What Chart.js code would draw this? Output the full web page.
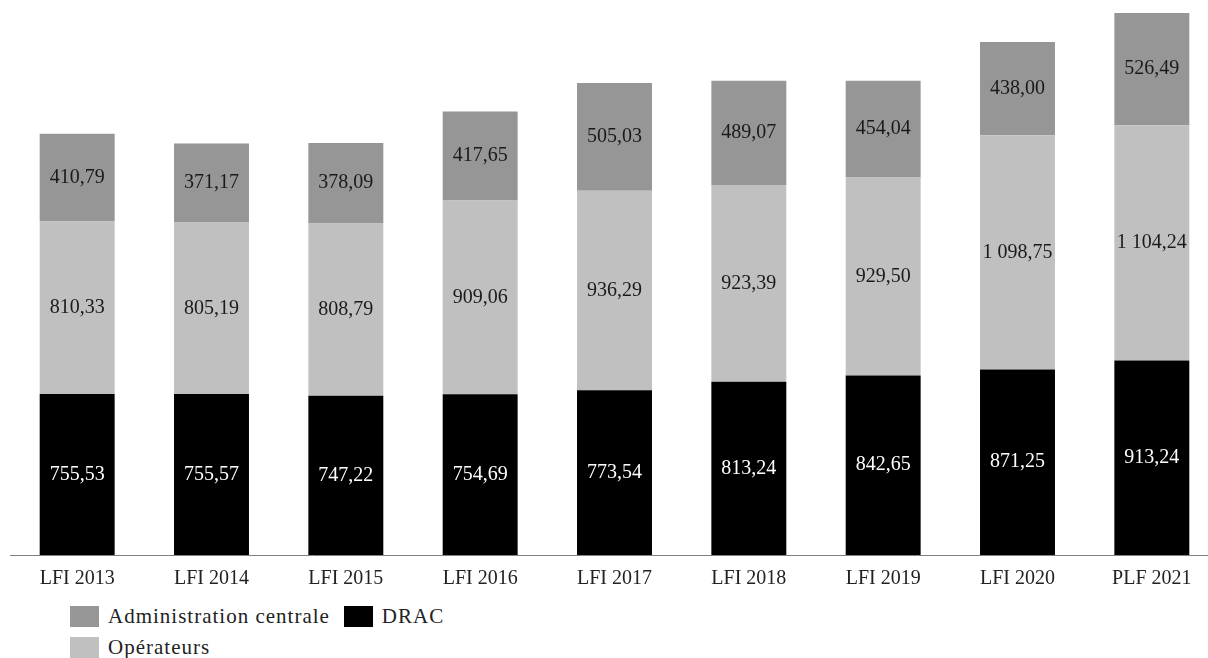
<!DOCTYPE html>
<html>
<head>
<meta charset="utf-8">
<script src="https://cdn.jsdelivr.net/npm/chart.js@4/dist/chart.umd.min.js"></script>
<style>
  html, body { margin: 0; padding: 0; background: #fff; overflow: hidden; }
  body { width: 1208px; height: 658px; position: relative; font-family: "Liberation Serif", serif; }
  #wrap { position: absolute; left: 0; top: 0; width: 1219px; height: 595px; }
  #legend { position: absolute; left: 70px; top: 602px; width: 520px; font-size: 21px; letter-spacing: 1px; color: #222; }
  .item { display: inline-flex; align-items: center; height: 29px; margin-right: 14px; }
  .box { width: 29px; height: 21px; margin-right: 9px; }
  .row { height: 31px; white-space: nowrap; }
</style>
</head>
<body>
<div id="wrap"><canvas id="myChart"></canvas></div>
<div id="legend"></div>
<script>
const categories = ["LFI 2013", "LFI 2014", "LFI 2015", "LFI 2016", "LFI 2017", "LFI 2018", "LFI 2019", "LFI 2020", "PLF 2021"];
const dracValues = [755.53, 755.57, 747.22, 754.69, 773.54, 813.24, 842.65, 871.25, 913.24];
const operateursValues = [810.33, 805.19, 808.79, 909.06, 936.29, 923.39, 929.50, 1098.75, 1104.24];
const adminValues = [410.79, 371.17, 378.09, 417.65, 505.03, 489.07, 454.04, 438.00, 526.49];

// ordre de la légende comme sur l'image
const legendRows = [["Administration centrale", "DRAC"], ["Opérateurs"]];

// format français : 1 098,75
function formatFr(v) {
  const parts = v.toFixed(2).split(".");
  const entier = parts[0].replace(/\B(?=(\d{3})+(?!\d))/g, " ");
  return entier + "," + parts[1];
}

// étiquettes au centre de chaque segment
const segmentLabels = {
  id: "segmentLabels",
  afterDatasetsDraw(chart) {
    const ctx = chart.ctx;
    ctx.save();
    ctx.font = "20px 'Liberation Serif'";
    ctx.textAlign = "center";
    ctx.textBaseline = "middle";
    chart.data.datasets.forEach((ds, i) => {
      chart.getDatasetMeta(i).data.forEach((bar, j) => {
        const y = (bar.y + bar.base) / 2;
        ctx.fillStyle = ds.labelColor;
        ctx.fillText(formatFr(ds.data[j]), bar.x, y);
      });
    });
    ctx.restore();
  },
};

function main() {
  const ctx = document.getElementById("myChart").getContext("2d");
  const chart = new Chart(ctx, {
    type: "bar",
    data: {
      labels: categories,
      datasets: [
        { label: "DRAC", data: dracValues, backgroundColor: "#000000", labelColor: "#ffffff" },
        { label: "Opérateurs", data: operateursValues, backgroundColor: "#c0c0c0", labelColor: "#1a1a1a" },
        { label: "Administration centrale", data: adminValues, backgroundColor: "#969696", labelColor: "#1a1a1a" },
      ],
    },
    options: {
      responsive: true,
      maintainAspectRatio: false,
      animation: false,
      layout: { padding: { left: 10, right: 0, top: 0, bottom: 0 } },
      datasets: { bar: { barPercentage: 0.558, categoryPercentage: 1, borderWidth: 0 } },
      plugins: { legend: { display: false }, tooltip: { enabled: false } },
      scales: {
        x: {
          stacked: true,
          grid: { display: false },
          border: { display: true, color: "#808080", width: 1 },
          ticks: { color: "#222", padding: 4, font: { family: "Liberation Serif", size: 20 } },
        },
        y: {
          stacked: true,
          display: false,
          min: 0,
          max: 2605,
        },
      },
    },
    plugins: [segmentLabels],
  });

  // légende HTML à partir des jeux de données
  const legend = document.getElementById("legend");
  legendRows.forEach((row) => {
    const rowEl = document.createElement("div");
    rowEl.className = "row";
    row.forEach((name) => {
      const ds = chart.data.datasets.find((d) => d.label === name);
      rowEl.innerHTML += `<span class="item"><span class="box" style="background:${ds.backgroundColor}"></span>${ds.label}</span>`;
    });
    legend.appendChild(rowEl);
  });
}

document.addEventListener("DOMContentLoaded", main);
</script>
</body>
</html>
